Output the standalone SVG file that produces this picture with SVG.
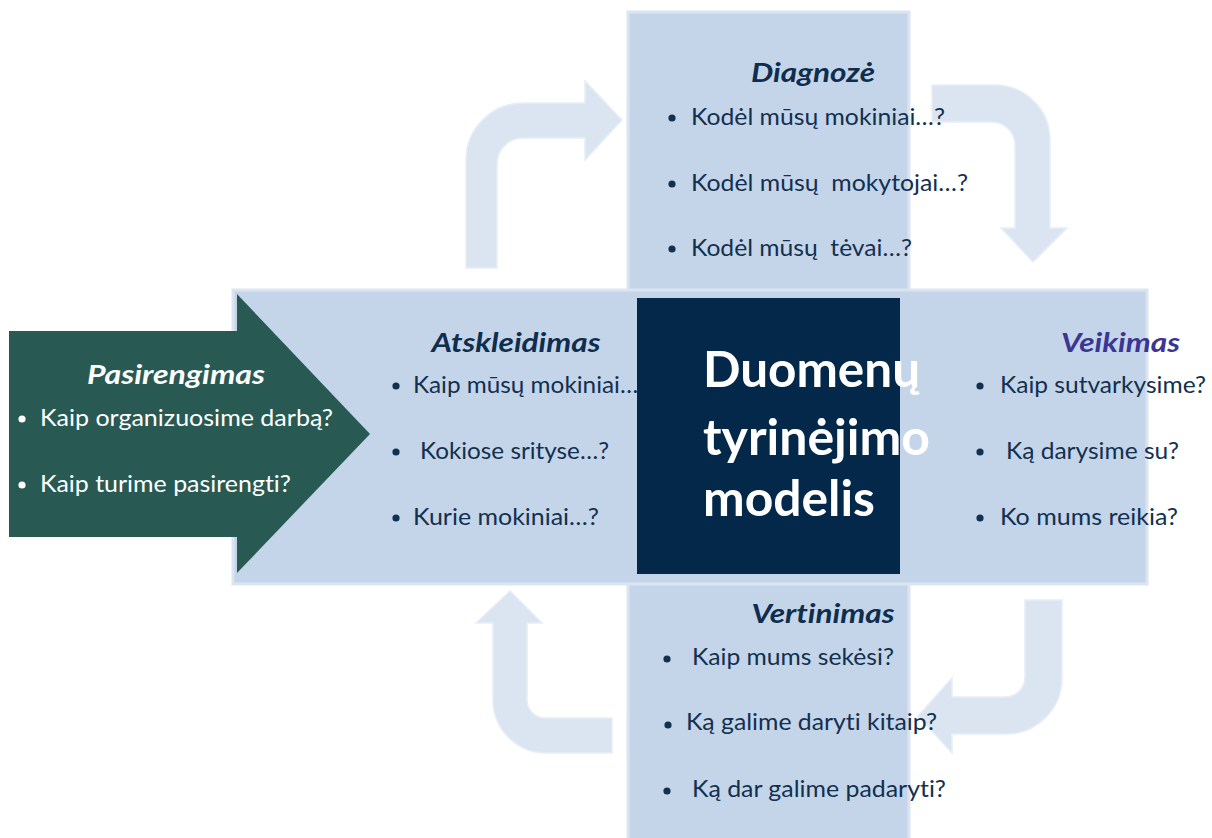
<svg xmlns="http://www.w3.org/2000/svg" width="1212" height="838" viewBox="0 0 1212 838">
<style>
.box{fill:#c5d5e9;stroke:#dbe5f2;stroke-width:3}
.carrow{fill:#dbe5f1;stroke:#e7eef7;stroke-width:1.5}
text{font-variant-ligatures:none;font-feature-settings:"liga" 0,"clig" 0}
.h{font-family:Lato,"Open Sans",sans-serif;font-weight:bold;font-style:italic;font-size:26px;fill:#0f2e4e}
.t{font-family:Lato,"Open Sans",sans-serif;font-size:23px;fill:#12304f}
.w{fill:#ffffff}
.dot{fill:#12304f}
.big{font-family:Lato,"Open Sans",sans-serif;font-weight:bold;font-size:49px;fill:#ffffff}
</style>
<rect width="1212" height="838" fill="#ffffff"/>
<g id="connectors">
<path class="carrow" d="M466,268 L466,160 A57,57 0 0 1 523,103 L585,103 L585,81 L622,120 L585,160 L585,138 L523,138 A26,26 0 0 0 497,164 L497,268 Z"/>
<path class="carrow" d="M932,85 L995,85 A55,55 0 0 1 1050,140 L1050,228 L1067,228 L1033,262 L1001,228 L1015,228 L1015,145 A23,23 0 0 0 992,122 L932,122 Z"/>
<path class="carrow" d="M1025,600 L1062,600 L1062,678 A56,56 0 0 1 1006,734 L952,734 L952,753 L918,716 L952,678 L952,697 L1005,697 A20,20 0 0 0 1025,677 Z"/>
<path class="carrow" d="M612,718 L545,718 A18,18 0 0 1 527,700 L527,623 L542,623 L510,591 L476,623 L493,623 L493,700 A53,53 0 0 0 546,753 L612,753 Z"/>
</g>
<g id="cross">
<rect class="box" x="628" y="12" width="281" height="290"/>
<rect class="box" x="628" y="570" width="281" height="275"/>
<rect class="box" x="233" y="290" width="914" height="294"/>
<rect x="630" y="292" width="277" height="290" fill="#c5d5e9"/>
</g>
<g id="atskleidimas">
<text class="h" x="516" y="352" text-anchor="middle" textLength="169" lengthAdjust="spacingAndGlyphs">Atskleidimas</text>
<circle class="dot" cx="396" cy="386" r="3.6"/>
<text class="t" x="413" y="393" textLength="236" lengthAdjust="spacingAndGlyphs">Kaip mūsų mokiniai…?</text>
<circle class="dot" cx="396" cy="452" r="3.6"/>
<text class="t" x="420" y="459" textLength="189" lengthAdjust="spacingAndGlyphs">Kokiose srityse…?</text>
<circle class="dot" cx="396" cy="518" r="3.6"/>
<text class="t" x="413" y="525" textLength="186" lengthAdjust="spacingAndGlyphs">Kurie mokiniai…?</text>
</g>
<g id="pasirengimas">
<path d="M9,331 L237,331 L237,294 L370,434 L237,573 L237,537 L9,537 Z" fill="#285a53"/>
<text class="h w" x="176" y="384" text-anchor="middle" textLength="178" lengthAdjust="spacingAndGlyphs">Pasirengimas</text>
<circle cx="22" cy="419" r="3.6" fill="#ffffff"/>
<text class="t w" x="40" y="426" textLength="293" lengthAdjust="spacingAndGlyphs">Kaip organizuosime darbą?</text>
<circle cx="22" cy="485" r="3.6" fill="#ffffff"/>
<text class="t w" x="40" y="492" textLength="251" lengthAdjust="spacingAndGlyphs">Kaip turime pasirengti?</text>
</g>
<g id="diagnoze">
<text class="h" x="813" y="82" text-anchor="middle" textLength="124" lengthAdjust="spacingAndGlyphs">Diagnozė</text>
<circle class="dot" cx="672" cy="118" r="3.6"/>
<text class="t" x="691" y="125" textLength="254" lengthAdjust="spacingAndGlyphs">Kodėl mūsų mokiniai…?</text>
<circle class="dot" cx="672" cy="184" r="3.6"/>
<text class="t" x="691" y="191" textLength="277" lengthAdjust="spacingAndGlyphs" xml:space="preserve">Kodėl mūsų  mokytojai…?</text>
<circle class="dot" cx="672" cy="249" r="3.6"/>
<text class="t" x="691" y="256" textLength="221" lengthAdjust="spacingAndGlyphs" xml:space="preserve">Kodėl mūsų  tėvai…?</text>
</g>
<g id="veikimas">
<text class="h" x="1180" y="352" text-anchor="end" style="fill:#3b3694" textLength="119" lengthAdjust="spacingAndGlyphs">Veikimas</text>
<circle class="dot" cx="980" cy="386" r="3.6"/>
<text class="t" x="1000" y="393" textLength="206" lengthAdjust="spacingAndGlyphs">Kaip sutvarkysime?</text>
<circle class="dot" cx="980" cy="452" r="3.6"/>
<text class="t" x="1006" y="459" textLength="173" lengthAdjust="spacingAndGlyphs">Ką darysime su?</text>
<circle class="dot" cx="980" cy="518" r="3.6"/>
<text class="t" x="1000" y="525" textLength="178" lengthAdjust="spacingAndGlyphs">Ko mums reikia?</text>
</g>
<g id="vertinimas">
<text class="h" x="823" y="623" text-anchor="middle" textLength="143" lengthAdjust="spacingAndGlyphs">Vertinimas</text>
<circle class="dot" cx="667" cy="659" r="3.6"/>
<text class="t" x="692" y="665" textLength="202" lengthAdjust="spacingAndGlyphs">Kaip mums sekėsi?</text>
<circle class="dot" cx="668" cy="725" r="3.6"/>
<text class="t" x="686" y="730" textLength="251" lengthAdjust="spacingAndGlyphs">Ką galime daryti kitaip?</text>
<circle class="dot" cx="667" cy="791" r="3.6"/>
<text class="t" x="692" y="797" textLength="254" lengthAdjust="spacingAndGlyphs">Ką dar galime padaryti?</text>
</g>
<g id="center">
<rect x="637" y="298" width="263" height="276" fill="#04284a"/>
<text class="big" x="703" y="387" textLength="217" lengthAdjust="spacingAndGlyphs">Duomenų</text>
<text class="big" x="703" y="455" textLength="227" lengthAdjust="spacingAndGlyphs">tyrinėjimo</text>
<text class="big" x="703" y="516" textLength="172" lengthAdjust="spacingAndGlyphs">modelis</text>
</g>
</svg>
